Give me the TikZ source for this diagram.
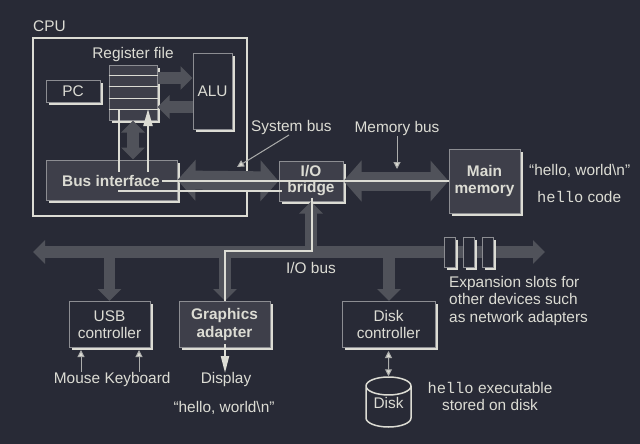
\documentclass[tikz,border=0pt]{standalone}
\usepackage{fontspec}
\setmainfont{Liberation Sans}
\setmonofont{Liberation Mono}
\usetikzlibrary{arrows.meta,shadows,shapes.geometric}
\definecolor{bgdark}{RGB}{40,42,54}
\definecolor{barfill}{RGB}{80,82,90}
\definecolor{boxfill}{RGB}{62,63,74}
\definecolor{edgegrey}{RGB}{140,141,146}
\definecolor{paper}{RGB}{220,220,212}
\begin{document}
\begin{tikzpicture}[x=1pt, y=-1pt, font=\fontsize{15.4}{17.5}\selectfont, text=paper,
  box_plain/.style={draw=edgegrey, line width=1pt, fill=bgdark, inner sep=0pt, align=center,
    drop shadow={shadow xshift=2.5pt, shadow yshift=-2.5pt, fill=paper, opacity=1}},
  box_fill/.style={box_plain, fill=boxfill, font=\fontsize{15.4}{17.5}\selectfont\bfseries},
  fat_one/.style={barfill, line width=11.5pt, -{Triangle[length=12pt,width=23pt]}},
  fat_two/.style={barfill, line width=11.5pt, {Triangle[length=12pt,width=23pt]}-{Triangle[length=12pt,width=23pt]}},
  fat_bus/.style={barfill, line width=19pt, {Triangle[length=18pt,width=40pt]}-{Triangle[length=18pt,width=40pt]}},
  wire/.style={paper, line width=2pt},
  thin_tip/.style={edgegrey!60!paper, line width=1pt, -{Triangle[length=7pt,width=7pt,fill=paper]}},
  txt/.style={inner sep=0pt, align=center}]

\fill[bgdark] (0,0) rectangle (640,444);
\useasboundingbox (0,0) rectangle (640,444);

\node[txt, anchor=west] (cpu_label) at (33,26) {CPU};
\node[draw=paper, line width=1.5pt, minimum width=214pt, minimum height=178pt] (cpu) at (140,127) {};

\node[box_fill, minimum width=48pt, minimum height=54pt] (regfile) at (133,93) {};
\node[box_plain, minimum width=54pt, minimum height=21pt] (pc) at (73,91.5) {PC};
\node[box_plain, minimum width=39pt, minimum height=75pt] (alu) at (212.5,91.5) {ALU};
\node[box_fill, minimum width=131pt, minimum height=40pt] (busif) at (111.5,180) {};
\node[box_fill, minimum width=64pt, minimum height=40pt] (bridge) at (311,181) {};
\node[box_fill, minimum width=71pt, minimum height=64pt] (mem) at (484.5,181) {Main\\memory};
\node[box_plain, minimum width=81pt, minimum height=46pt] (usb) at (109.5,324.5) {USB\\controller};
\node[box_fill, minimum width=91pt, minimum height=46pt] (gfx) at (224.5,324.5) {Graphics\\adapter};
\node[box_plain, minimum width=93pt, minimum height=46pt] (disk_ctl) at (388.5,324.5) {Disk\\controller};
\node[cylinder, shape border rotate=90, aspect=0.6, draw=paper, line width=1.5pt, fill=bgdark,
  minimum width=45pt, minimum height=50pt, inner sep=0pt, anchor=shape center] (disk) at (388.5,402) {\phantom{Disk}};
\node[txt] (disk_label) at (388.5,403) {Disk};

\coordinate (bus_l) at (33,252);
\coordinate (bus_r) at (545,252);
\coordinate (bus_usb) at (109.5,252);
\coordinate (bus_gfx) at (225,252);
\coordinate (bus_bridge) at (311,252);
\coordinate (bus_disk) at (389,252);
\coordinate (row_a) at (0,78);
\coordinate (row_b) at (0,107);

% fat buses
\draw[fat_one] (regfile.east |- row_a) -- (alu.west |- row_a);
\draw[fat_one] (alu.west |- row_b) -- (regfile.east |- row_b);
\draw[fat_two] (regfile.south) -- (busif.north -| regfile.south);
\draw[fat_bus] (busif.east) -- (bridge.west);
\draw[fat_bus] (bridge.east) -- (mem.west);
\draw[fat_two] (bus_l) -- (bus_r);
\draw[fat_one] (bus_bridge) -- (bridge.south);
\draw[fat_one] (bus_usb) -- (usb.north);
\draw[fat_one] (bus_gfx) -- (gfx.north -| bus_gfx);
\draw[fat_one] (bus_disk) -- (disk_ctl.north -| bus_disk);

\foreach \n/\x in {1/449.5,2/468.5,3/487.5}
  \node[box_plain, minimum width=11pt, minimum height=30pt] (slot\n) at (\x,252) {};

% bright wires
\foreach \y/\n in {76/a,87/b,98/c,109/d}
  \draw[wire, line width=1pt] (regfile.west |- 0,\y) -- (regfile.east |- 0,\y);
\coordinate (wire_a) at (119,191);
\coordinate (wire_b) at (282,191);
\coordinate (wire_c) at (312,251);
\coordinate (wire_d) at (225,251);
\draw[wire] (119,109) -- (wire_a) -- (wire_b);
\draw[wire, -{Triangle[length=17pt,width=9pt]}] (busif.north -| 148,0) ++(0,14) -- (148,109);
\draw[wire] (bridge.south) ++(1,-4) -- (wire_c) -- (wire_d) -- (gfx.north -| wire_d);
\draw[wire, -{Triangle[length=17pt,width=8pt]}] (gfx.south -| wire_d) ++(0,-4) -- (225,373);

\node[txt, fill=boxfill, font=\fontsize{15.4}{17.5}\selectfont\bfseries, inner ysep=3pt] (busif_text) at (111,181) {Bus interface};
\draw[wire] (busif_text.east) ++(2,0) -- (mem.west);
\node[txt, font=\fontsize{15.4}{17.5}\selectfont\bfseries] (bridge_top) at (311,171) {I/O};
\node[txt, font=\fontsize{15.4}{17.5}\selectfont\bfseries] (bridge_bot) at (311,189) {bridge};

\node[txt] (reg_label) at (133,54.5) {Register file};
\node[txt, anchor=west] (sys_label) at (251,127.5) {System bus};
\node[txt] (mem_label) at (397,128.5) {Memory bus};
\node[txt] (io_label) at (311,268) {I/O bus};
\node[txt, anchor=west] (hello_a) at (529,170.5) {“hello, world\textbackslash n”};
\node[txt, anchor=west] (hello_b) at (537,196.5) {\texttt{hello} code};
\node[txt, align=left, anchor=north west] (slots_label) at (449,276) {Expansion slots for\\other devices such\\as network adapters};
\node[txt, anchor=base] (mouse) at (77,383) {Mouse};
\node[txt, anchor=base] (keyboard) at (137.5,383) {Keyboard};
\node[txt, anchor=base] (display) at (226,383) {Display};
\node[txt] (hello_c) at (224,407.5) {“hello, world\textbackslash n”};
\node[txt] (exe_label) at (490,396.5) {\texttt{hello} executable\\stored on disk};

\coordinate (sys_tip) at (237,167);
\coordinate (mem_tip) at (397,169);
\coordinate (sys_tail) at (289,135);
\draw[thin_tip] (sys_tail) -- (sys_tip);
\draw[thin_tip] (mem_label.south) -- (mem_tip);
\draw[thin_tip] (mouse.north -| 81,0) -- (81,350);
\draw[thin_tip] (keyboard.north -| 139,0) -- (139,350);
\draw[thin_tip, {Triangle[length=7pt,width=7pt,fill=paper]}-{Triangle[length=7pt,width=7pt,fill=paper]}] (disk_ctl.south) ++(0,3) -- (disk.north);

\end{tikzpicture}
\end{document}
